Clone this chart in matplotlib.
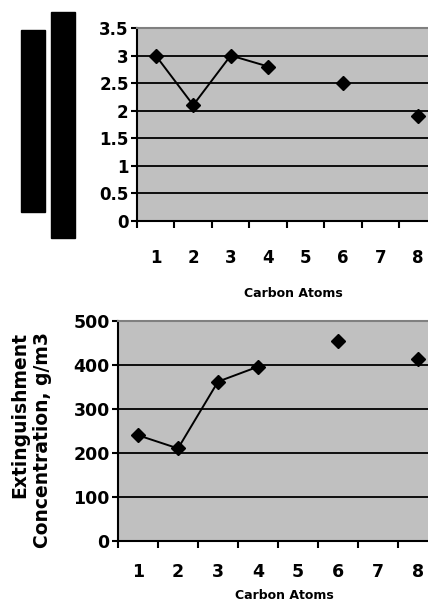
import numpy as np
import matplotlib
matplotlib.use("Agg")
import matplotlib.pyplot as plt
from matplotlib.patches import Rectangle

# Data (5 and 7 carbon atoms have no value)
carbon_atoms = ['1', '2', '3', '4', '5', '6', '7', '8']
top_values = [3.0, 2.1, 3.0, 2.8, np.nan, 2.5, np.nan, 1.9]
bottom_values = [240, 210, 362, 396, np.nan, 455, np.nan, 414]

plt.rcParams['font.family'] = 'DejaVu Sans'
plt.rcParams['font.weight'] = 'bold'

fig = plt.figure(figsize=(4.28, 6.02), dpi=100)
fig.patch.set_facecolor('white')


def style_axes(ax, values, ymax, ystep, label_size, label_pad, xlabel_y):
    x = np.arange(len(carbon_atoms))
    vals = np.array(values, dtype=float)
    # line only joins neighbouring points, isolated ones are markers only
    ax.plot(x, vals, color='black', lw=1.4, zorder=3)
    ax.plot(x, vals, linestyle='none', marker='D', ms=7, color='black', zorder=4)

    ax.set_facecolor('#c0c0c0')
    ax.set_xlim(-0.5, len(carbon_atoms) - 0.5)
    ax.set_ylim(0, ymax)
    yt = np.arange(0, ymax + ystep / 2, ystep)
    ax.set_yticks(yt)
    ax.set_yticklabels([f'{v:g}' for v in yt], fontsize=label_size, fontweight='bold')
    for v in yt[1:-1]:
        ax.axhline(v, color='black', lw=1.3, zorder=1)

    ax.set_xticks(np.arange(len(carbon_atoms) + 1) - 0.5)
    ax.set_xticklabels([])
    ax.set_xticks(x, minor=True)
    ax.set_xticklabels(carbon_atoms, minor=True, fontsize=label_size, fontweight='bold')
    ax.tick_params(axis='x', which='major', direction='out', length=5, width=1.5)
    ax.tick_params(axis='x', which='minor', length=0, pad=label_pad)
    ax.tick_params(axis='y', direction='out', length=4, width=1.5, pad=2)

    ax.spines['left'].set_linewidth(1.5)
    ax.spines['bottom'].set_linewidth(1.5)
    ax.spines['top'].set_color('#808080')
    ax.spines['top'].set_linewidth(1.5)
    ax.spines['right'].set_visible(False)

    ax.set_xlabel('Carbon Atoms', fontsize=9, fontweight='bold')
    ax.xaxis.set_label_coords(0.52, xlabel_y)


# top panel: axes runs past the right edge like the source image
ax1 = fig.add_axes([0.320, 0.633, 0.701, 0.3206])
style_axes(ax1, top_values, 3.5, 0.5, 12, 20, -0.342)

ax2 = fig.add_axes([0.2757, 0.1018, 0.7477, 0.365])
style_axes(ax2, bottom_values, 500, 100, 12.5, 16, -0.222)

# y label of the lower panel, two right-aligned rotated lines
fig.text(0.047, 0.4485, 'Extinguishment', rotation=90, ha='center', va='top',
         fontsize=13.5, fontweight='bold')
fig.text(0.100, 0.4485, 'Concentration, g/m3', rotation=90, ha='center', va='top',
         fontsize=13.5, fontweight='bold')

# black blocks covering the upper y label in the source
fig.patches.append(Rectangle((21 / 428, 1 - 212 / 602), 24 / 428, 182 / 602,
                             transform=fig.transFigure, color='black'))
fig.patches.append(Rectangle((51 / 428, 1 - 238 / 602), 24 / 428, 226 / 602,
                             transform=fig.transFigure, color='black'))

fig.savefig('out.png', dpi=100)
